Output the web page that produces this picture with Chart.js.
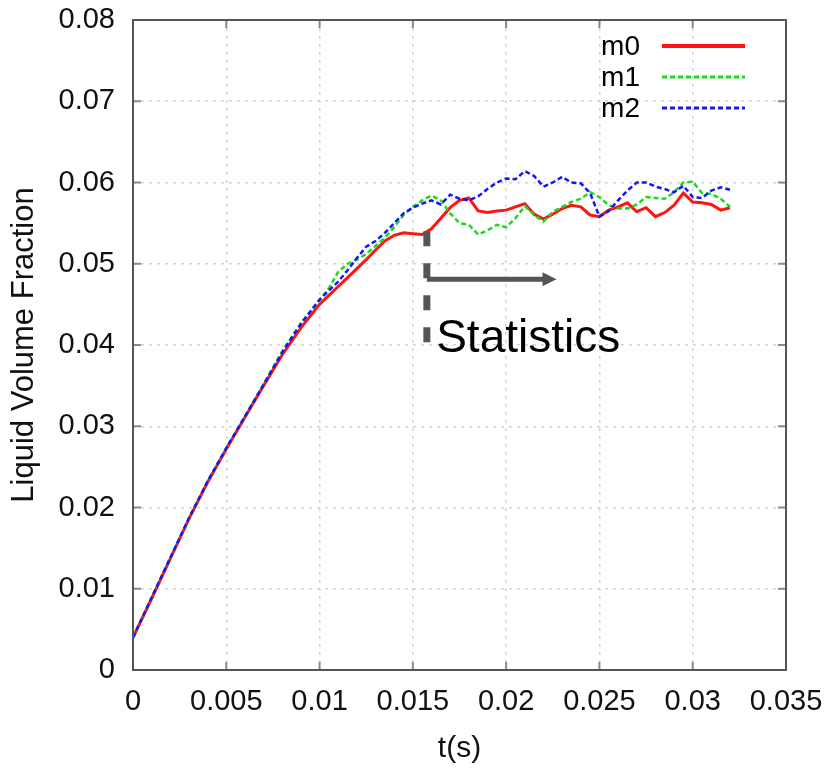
<!DOCTYPE html>
<html>
<head>
<meta charset="utf-8">
<script src="https://cdn.jsdelivr.net/npm/chart.js@4.4.1/dist/chart.umd.min.js"></script>
<style>
  html, body { margin: 0; padding: 0; background: #fff; }
</style>
</head>
<body>
<canvas id="chart" width="832" height="770"></canvas>
<script>
// time axis shared by all three runs (s)
const times = [
  0, 0.001, 0.002, 0.003, 0.004, 0.005, 0.006, 0.007, 0.008, 0.009, 0.010,
  0.0105, 0.011, 0.0115, 0.012, 0.0125, 0.013, 0.0135, 0.014, 0.0145, 0.015,
  0.0155, 0.016, 0.0165, 0.017, 0.0175, 0.018, 0.0185, 0.019, 0.0195, 0.020,
  0.0205, 0.021, 0.0215, 0.022, 0.0225, 0.023, 0.0235, 0.024, 0.0245, 0.025,
  0.0255, 0.026, 0.0265, 0.027, 0.0275, 0.028, 0.0285, 0.029, 0.0295, 0.030,
  0.0305, 0.031, 0.0315, 0.032
];

const m0 = [
  0.0040, 0.0088, 0.0137, 0.0186, 0.0231, 0.0272, 0.0311, 0.0350, 0.0388, 0.0421, 0.0450,
  0.0461, 0.0472, 0.0483, 0.0494, 0.0505, 0.0517, 0.0528, 0.0535, 0.0538, 0.0537,
  0.0536, 0.0543, 0.0556, 0.0569, 0.0578, 0.0581, 0.0565, 0.0563, 0.0565, 0.0566,
  0.0570, 0.0574, 0.0561, 0.0555, 0.0561, 0.0568, 0.0572, 0.0570, 0.0560, 0.0558,
  0.0566, 0.0570, 0.0575, 0.0564, 0.0569, 0.0558, 0.0563, 0.0572, 0.0587, 0.0576,
  0.0575, 0.0573, 0.0566, 0.0569
];

const m1 = [
  0.0040, 0.0089, 0.0138, 0.0186, 0.0232, 0.0273, 0.0312, 0.0352, 0.0392, 0.0427, 0.0455,
  0.0470, 0.0490, 0.0500, 0.0505, 0.0512, 0.0522, 0.0532, 0.0545, 0.0560, 0.0570,
  0.0578, 0.0584, 0.0578, 0.0562, 0.0550, 0.0548, 0.0536, 0.0541, 0.0548, 0.0545,
  0.0556, 0.0571, 0.0560, 0.0552, 0.0564, 0.0570, 0.0576, 0.0580, 0.0588, 0.0582,
  0.0572, 0.0568, 0.0568, 0.0573, 0.0582, 0.0581, 0.0580, 0.0588, 0.0600, 0.0601,
  0.0587, 0.0586, 0.0580, 0.0570
];

const m2 = [
  0.0040, 0.0089, 0.0138, 0.0187, 0.0232, 0.0273, 0.0312, 0.0351, 0.0391, 0.0426, 0.0456,
  0.0467, 0.0478, 0.0492, 0.0507, 0.0521, 0.0528, 0.0538, 0.0550, 0.0562, 0.0569,
  0.0574, 0.0578, 0.0573, 0.0585, 0.0580, 0.0578, 0.0583, 0.0592, 0.0600, 0.0605,
  0.0604, 0.0614, 0.0608, 0.0595, 0.0600, 0.0607, 0.0600, 0.0599, 0.0587, 0.0558,
  0.0565, 0.0578, 0.0590, 0.0600, 0.0600, 0.0595, 0.0592, 0.0588, 0.0596, 0.0582,
  0.0581, 0.0590, 0.0594, 0.0591
];

const seriesNames = ['m0', 'm1', 'm2'];
const seriesColors = ['#ff1414', '#1ed81e', '#1414ff'];

// start of the statistics window (s)
const statStart = 0.01575;

function toPoints(vals) {
    return times.map((t, i) => ({ x: t, y: vals[i] }));
}

function fmt(v) {
    return String(+v.toFixed(4));
}

const decorations = {
    id: 'decorations',
    afterDraw(chart) {
        const ctx = chart.ctx;
        const a = chart.chartArea;
        const xs = chart.scales.x;
        const ys = chart.scales.y;

        ctx.save();
        // inward tick marks on all four sides
        ctx.strokeStyle = '#8a8a8a';
        ctx.lineWidth = 2;
        xs.ticks.forEach((t) => {
            let px = xs.getPixelForValue(t.value);
            ctx.beginPath();
            ctx.moveTo(px, a.bottom); ctx.lineTo(px, a.bottom - 8);
            ctx.moveTo(px, a.top); ctx.lineTo(px, a.top + 8);
            ctx.stroke();
        });
        ys.ticks.forEach((t) => {
            let py = ys.getPixelForValue(t.value);
            ctx.beginPath();
            ctx.moveTo(a.left, py); ctx.lineTo(a.left + 8, py);
            ctx.moveTo(a.right, py); ctx.lineTo(a.right - 8, py);
            ctx.stroke();
        });

        // frame
        ctx.strokeStyle = '#555';
        ctx.lineWidth = 2;
        ctx.strokeRect(a.left, a.top, a.right - a.left, a.bottom - a.top);

        // legend, top right inside the plot
        ctx.font = '28px "Liberation Sans", Arial, sans-serif';
        ctx.textAlign = 'right';
        ctx.textBaseline = 'alphabetic';
        const dashes = [[], [5, 3], [5, 3]];
        seriesNames.forEach((name, i) => {
            let yy = a.top + 26 + i * 31;
            ctx.fillStyle = '#000';
            ctx.fillText(name, a.right - 146, yy + 9);
            ctx.strokeStyle = seriesColors[i];
            ctx.lineWidth = i === 0 ? 4 : 3;
            ctx.setLineDash(dashes[i]);
            ctx.beginPath();
            ctx.moveTo(a.right - 124, yy);
            ctx.lineTo(a.right - 41, yy);
            ctx.stroke();
        });

        // statistics window marker
        let sx = xs.getPixelForValue(statStart);
        ctx.strokeStyle = '#555';
        ctx.lineWidth = 7;
        ctx.setLineDash([15, 17]);
        ctx.beginPath();
        ctx.moveTo(sx, ys.getPixelForValue(0.0540));
        ctx.lineTo(sx, ys.getPixelForValue(0.0392));
        ctx.stroke();
        ctx.setLineDash([]);

        let ay = ys.getPixelForValue(0.0481);
        let ax = xs.getPixelForValue(0.0227);
        ctx.lineWidth = 5;
        ctx.beginPath();
        ctx.moveTo(sx, ay);
        ctx.lineTo(ax - 10, ay);
        ctx.stroke();
        ctx.fillStyle = '#555';
        ctx.beginPath();
        ctx.moveTo(ax, ay);
        ctx.lineTo(ax - 14, ay - 7);
        ctx.lineTo(ax - 14, ay + 7);
        ctx.closePath();
        ctx.fill();

        ctx.fillStyle = '#000';
        ctx.textAlign = 'left';
        ctx.font = '46px "Liberation Sans", Arial, sans-serif';
        ctx.fillText('Statistics', xs.getPixelForValue(0.01625), ys.getPixelForValue(0.0391));
        ctx.restore();
    }
};

const chart = new Chart(document.getElementById('chart').getContext('2d'), {
    type: 'line',
    data: {
        datasets: [
            {
                label: seriesNames[0],
                data: toPoints(m0),
                borderColor: seriesColors[0],
                borderWidth: 3,
                order: 2
            },
            {
                label: seriesNames[1],
                data: toPoints(m1),
                borderColor: seriesColors[1],
                borderWidth: 2.5,
                borderDash: [5, 3],
                order: 1
            },
            {
                label: seriesNames[2],
                data: toPoints(m2),
                borderColor: seriesColors[2],
                borderWidth: 2.5,
                borderDash: [5, 3],
                order: 0
            }
        ]
    },
    options: {
        responsive: false,
        animation: false,
        elements: {
            point: { radius: 0 },
            line: { tension: 0 }
        },
        layout: {
            padding: { top: 20, right: 46, left: 0, bottom: 0 }
        },
        plugins: {
            legend: { display: false },
            tooltip: { enabled: false }
        },
        scales: {
            x: {
                type: 'linear',
                min: 0,
                max: 0.035,
                ticks: {
                    stepSize: 0.005,
                    padding: 15,
                    color: '#111',
                    font: { family: '"Liberation Sans", Arial, sans-serif', size: 29 },
                    maxRotation: 0,
                    callback: fmt
                },
                grid: { color: '#d4d4d4', lineWidth: 1.5, drawTicks: false },
                border: { display: false, dash: [3, 5] },
                title: {
                    display: true,
                    text: 't(s)',
                    color: '#111',
                    font: { family: '"Liberation Sans", Arial, sans-serif', size: 30 },
                    padding: { top: 0, bottom: 3 }
                },
                afterFit: (s) => {
                    s.height = 100;
                    s.paddingLeft = 0;
                    s.paddingRight = 0;
                }
            },
            y: {
                min: 0,
                max: 0.08,
                ticks: {
                    stepSize: 0.01,
                    padding: 18,
                    color: '#111',
                    font: { family: '"Liberation Sans", Arial, sans-serif', size: 29 },
                    callback: fmt
                },
                grid: { color: '#d4d4d4', lineWidth: 1.5, drawTicks: false },
                border: { display: false, dash: [3, 5] },
                title: {
                    display: true,
                    text: 'Liquid Volume Fraction',
                    color: '#111',
                    font: { family: '"Liberation Sans", Arial, sans-serif', size: 31 },
                    padding: { top: 6, bottom: 0 }
                },
                afterFit: (s) => {
                    s.width = 133;
                    s.paddingTop = 0;
                    s.paddingBottom = 0;
                }
            }
        }
    },
    plugins: [decorations]
});
</script>
</body>
</html>
